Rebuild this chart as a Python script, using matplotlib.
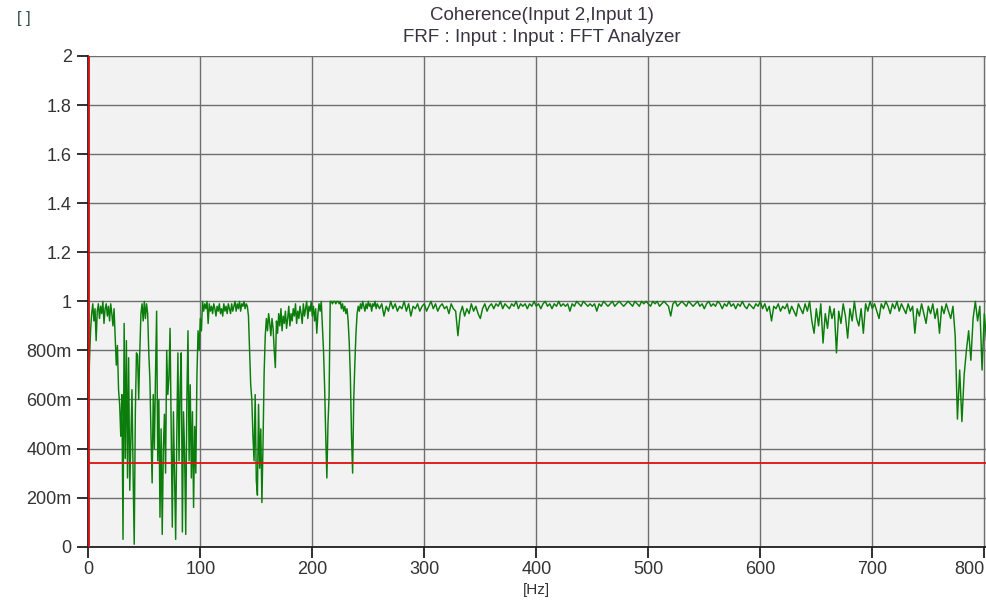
import numpy as np
import matplotlib.pyplot as plt
from matplotlib.ticker import FixedLocator

# --- DATA ---
# 0..259 Hz at 1 Hz spacing
coh_lo = [
    0.50, 0.75, 0.88, 0.95, 0.99, 0.92, 0.97, 0.84, 0.96, 0.99,
    0.93, 0.98, 0.95, 1.00, 0.91, 0.97, 0.99, 0.94, 0.98, 0.92,
    0.99, 0.95, 0.90, 0.97, 0.86, 0.74, 0.82, 0.64, 0.58, 0.45,
    0.62, 0.03, 0.91, 0.36, 0.84, 0.28, 0.77, 0.23, 0.44, 0.64,
    0.30, 0.01, 0.55, 0.79, 0.78, 0.60, 0.80, 0.95, 0.99, 0.92,
    1.00, 0.93, 0.99, 0.95, 0.79, 0.68, 0.45, 0.26, 0.62, 0.40,
    0.70, 0.96, 0.35, 0.60, 0.12, 0.48, 0.05, 0.40, 0.54, 0.30,
    0.80, 0.62, 0.69, 0.89, 0.47, 0.08, 0.55, 0.30, 0.03, 0.45,
    0.79, 0.35, 0.65, 0.79, 0.06, 0.55, 0.38, 0.05, 0.60, 0.88,
    0.35, 0.66, 0.28, 0.55, 0.16, 0.49, 0.30, 0.70, 0.88, 0.80,
    0.93, 0.88, 1.00, 0.96, 0.99, 0.97, 1.00, 0.91, 0.99, 0.96,
    0.98, 0.95, 0.99, 0.97, 0.94, 0.98, 0.96, 0.99, 0.95, 0.97,
    0.94, 0.99, 0.96, 0.98, 0.95, 0.99, 0.97, 0.95, 0.99, 0.96,
    0.98, 1.00, 0.96, 0.99, 0.97, 1.00, 0.96, 0.99, 0.98, 1.00,
    0.97, 0.99, 0.98, 0.94, 0.80, 0.66, 0.60, 0.45, 0.35, 0.62,
    0.27, 0.21, 0.58, 0.32, 0.48, 0.18, 0.42, 0.71, 0.86, 0.93,
    0.88, 0.95, 0.91, 0.86, 0.93, 0.89, 0.80, 0.73, 0.92, 0.87,
    0.95, 0.90, 0.97, 0.88, 0.94, 0.91, 0.96, 0.89, 0.93, 0.98,
    0.90, 0.95, 0.92, 0.97, 0.94, 0.99, 0.91, 0.96, 0.93, 0.98,
    0.95, 0.91, 0.99, 0.94, 0.97, 1.00, 0.93, 0.98, 0.96, 1.00,
    0.94, 0.98, 0.92, 0.97, 0.87, 0.95, 0.99, 0.96, 1.00, 0.90,
    0.80, 0.65, 0.45, 0.28, 0.50, 0.62, 1.00, 1.00, 0.99, 1.00,
    1.00, 0.99, 1.00, 1.00, 0.99, 1.00, 0.97, 0.99, 0.96, 0.98,
    0.95, 0.97, 0.92, 0.83, 0.69, 0.45, 0.30, 0.60, 0.75, 0.87,
    0.95, 0.98, 0.96, 0.99, 0.97, 1.00, 0.98, 0.96, 0.99, 0.97,
    1.00, 0.98, 0.99, 0.96, 0.99, 0.98, 1.00, 0.97, 0.99, 0.98,
]
# 260..802 Hz at 2 Hz spacing
coh_hi = [
    0.97, 0.99, 0.94, 0.98, 0.96, 1.00, 0.97, 0.99, 0.96, 0.98,
    0.97, 1.00, 0.96, 0.99, 0.94, 0.98, 0.97, 0.99, 0.96, 0.98,
    0.99, 0.96, 0.98, 1.00, 0.97, 0.99, 0.96, 0.98, 0.99, 0.97,
    0.98, 0.95, 0.99, 0.97, 0.96, 0.86, 0.95, 0.98, 0.94, 0.97,
    0.95, 0.99, 0.96, 0.98, 0.95, 0.93, 0.97, 0.99, 0.96, 0.98,
    0.99, 0.97, 0.99, 0.98, 1.00, 0.97, 0.99, 0.98, 0.97, 0.99,
    0.98, 1.00, 0.97, 0.99, 0.98, 0.99, 0.97, 0.99, 0.98, 1.00,
    0.98, 0.99, 0.97, 0.99, 1.00, 0.98, 0.99, 0.97, 0.99, 0.98,
    1.00, 0.98, 0.99, 0.98, 0.99, 0.96, 0.99, 0.98, 1.00, 0.99,
    0.98, 1.00, 0.99, 0.98, 0.99, 0.98, 0.99, 0.96, 0.99, 0.98,
    1.00, 0.99, 0.98, 0.99, 1.00, 0.98, 0.99, 1.00, 0.99, 0.98,
    0.99, 1.00, 0.99, 0.98, 1.00, 0.99, 0.98, 1.00, 0.99, 1.00,
    0.99, 0.98, 1.00, 0.99, 1.00, 0.98, 0.99, 1.00, 0.99, 0.98,
    0.94, 0.99, 1.00, 0.98, 0.99, 1.00, 0.99, 0.98, 1.00, 0.99,
    0.98, 0.99, 1.00, 0.98, 0.99, 0.97, 0.99, 1.00, 0.98, 0.99,
    0.98, 1.00, 0.99, 0.97, 0.99, 0.98, 1.00, 0.98, 0.99, 0.97,
    0.99, 0.98, 1.00, 0.98, 0.97, 0.99, 0.98, 0.97, 0.99, 0.98,
    1.00, 0.97, 0.99, 0.96, 0.98, 0.92, 0.98, 0.97, 0.99, 0.96,
    0.98, 0.97, 0.99, 0.95, 0.98, 0.96, 0.94, 0.99, 0.97, 0.95,
    0.99, 0.96, 1.00, 0.92, 0.87, 0.97, 0.90, 0.99, 0.83, 0.95,
    0.89, 0.98, 0.93, 0.97, 0.79, 0.96, 0.91, 0.99, 0.94, 0.85,
    0.97, 0.92, 1.00, 0.93, 0.90, 0.97, 0.87, 0.99, 0.96, 1.00,
    0.97, 0.99, 0.96, 0.93, 0.99, 0.97, 1.00, 0.98, 0.95, 0.99,
    0.97, 1.00, 0.96, 0.99, 0.97, 0.95, 0.99, 0.96, 0.98, 0.87,
    0.97, 0.94, 0.99, 0.95, 0.91, 0.98, 0.95, 0.99, 0.93, 0.97,
    0.87, 0.98, 0.95, 0.99, 0.96, 0.93, 0.98, 0.86, 0.52, 0.72,
    0.51, 0.70, 0.80, 0.88, 0.76, 0.93, 1.00, 0.92, 0.98, 0.72,
    0.95, 0.84,
]
freq = np.concatenate([np.arange(len(coh_lo)) * 1.0,
                       260.0 + 2.0 * np.arange(len(coh_hi))])
coherence = np.array(coh_lo + coh_hi)

CURSOR_X = 1.0          # vertical red cursor [Hz]
CURSOR_Y = 0.34         # horizontal red threshold

x_ticks = [0, 100, 200, 300, 400, 500, 600, 700, 800]
y_ticks = [0, 0.2, 0.4, 0.6, 0.8, 1.0, 1.2, 1.4, 1.6, 1.8, 2.0]
y_labels = ['0', '200m', '400m', '600m', '800m', '1', '1.2', '1.4', '1.6', '1.8', '2']

plt.rcParams['font.family'] = ['Liberation Sans', 'DejaVu Sans']

fig = plt.figure(figsize=(9.87, 6.08), dpi=100)
ax = fig.add_axes([88.3 / 987, 61.3 / 608, 1 - 88.3 / 987, (546.7 - 56) / 608])
ax.set_facecolor('#f2f2f2')

ax.plot(freq, coherence, color='#0a7d0a', linewidth=1.05, zorder=3)
ax.axvline(CURSOR_X, color='#e01010', linewidth=1.3, zorder=4)
ax.axhline(CURSOR_Y, color='#e01010', linewidth=1.3, zorder=4)

ax.set_xlim(0, 802.4)
ax.set_ylim(0, 2)
ax.xaxis.set_major_locator(FixedLocator(x_ticks))
ax.yaxis.set_major_locator(FixedLocator(y_ticks))
ax.set_xticklabels([str(t) for t in x_ticks])
ax.set_yticklabels(y_labels)
ax.get_xticklabels()[-1].set_ha('right')

ax.grid(True, color='#6e6e6e', linewidth=1.0, zorder=1)
ax.set_axisbelow(True)
for side in ('top', 'right'):
    ax.spines[side].set_visible(False)
for side in ('left', 'bottom'):
    ax.spines[side].set_color('#202020')
    ax.spines[side].set_linewidth(1.3)
ax.tick_params(axis='both', direction='out', length=8, width=1.3,
               color='#202020', labelsize=13, labelcolor='#333333', pad=4)
ax.tick_params(axis='x', pad=2)

fig.text(0.549, 1 - 15 / 608, 'Coherence(Input 2,Input 1)', ha='center', va='center',
         fontsize=13.5, color='#3a3340')
fig.text(0.549, 1 - 37 / 608, 'FRF : Input : Input : FFT Analyzer', ha='center', va='center',
         fontsize=13.5, color='#3a3340')
fig.text(23.5 / 987, 1 - 19 / 608, '[ ]', ha='center', va='center',
         fontsize=12, color='#2e4a48')
fig.text(536 / 987, 1 - 590 / 608, '[Hz]', ha='center', va='center',
         fontsize=11, color='#333333')

fig.savefig('out.png', dpi=100)
